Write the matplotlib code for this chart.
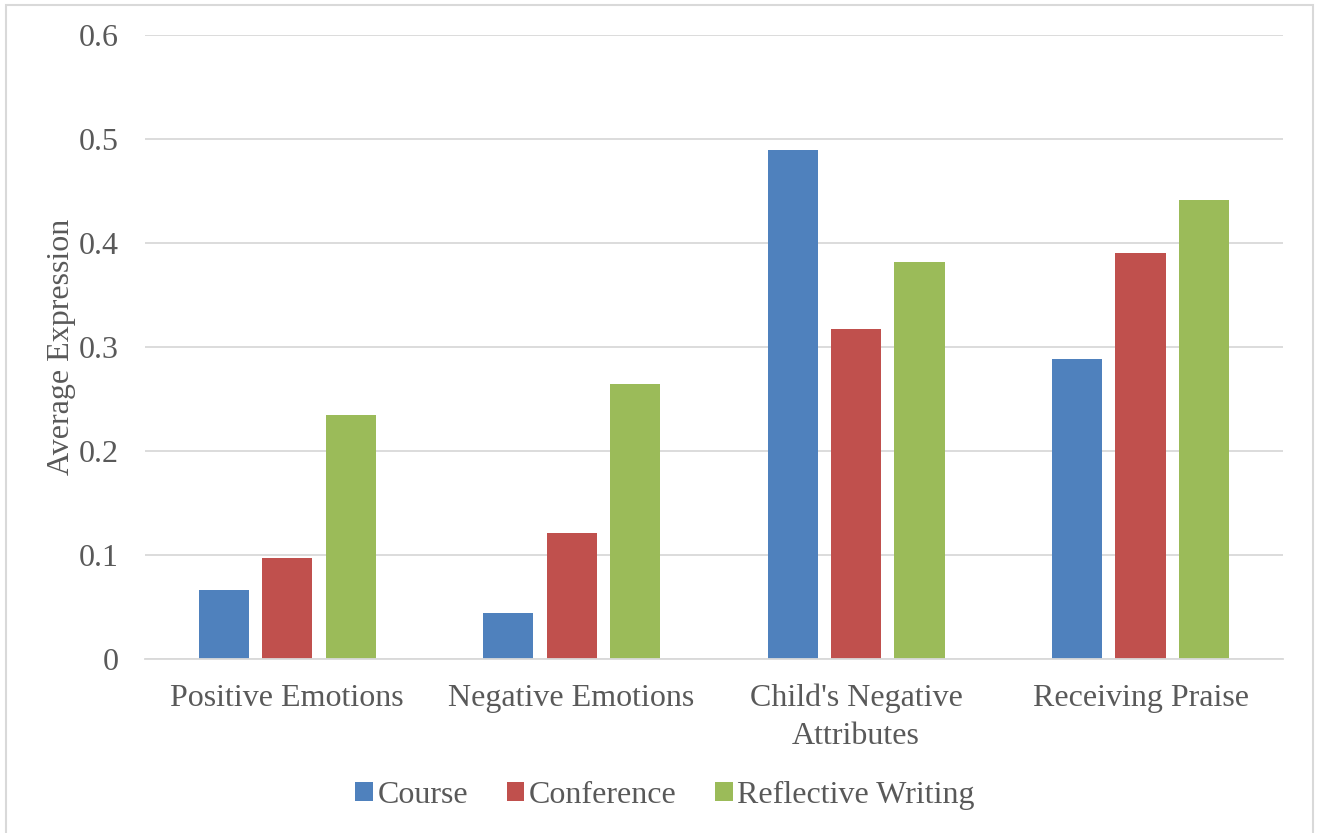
import matplotlib.pyplot as plt
import numpy as np
from matplotlib.patches import Rectangle

plt.rcParams['font.family'] = ['Liberation Serif', 'DejaVu Serif']

# categories and the three series
categories = ["Positive Emotions", "Negative Emotions", "Child's Negative\nAttributes", "Receiving Praise"]
course = [0.066, 0.044, 0.489, 0.288]
conference = [0.097, 0.121, 0.317, 0.390]
reflective = [0.235, 0.264, 0.382, 0.441]

series = [("Course", course, "#4F81BD"),
          ("Conference", conference, "#C0504D"),
          ("Reflective Writing", reflective, "#9BBB59")]

text_col = "#595959"
grid_col = "#D9D9D9"

fig = plt.figure(figsize=(13.17, 8.33), dpi=100)
ax = fig.add_axes([0.110, 0.209, 0.864, 0.749])

x = np.arange(len(categories))
width = 0.176
step = 0.223
for i, (name, vals, col) in enumerate(series):
    ax.bar(x + (i - 1) * step, vals, width, color=col, label=name, zorder=3)

ax.set_xlim(-0.5, len(categories) - 0.5)
ax.set_ylim(0, 0.6)
ax.set_yticks(np.arange(0, 0.61, 0.1))
ax.set_yticklabels(["0", "0.1", "0.2", "0.3", "0.4", "0.5", "0.6"])
ax.set_xticks(x)
ax.set_xticklabels(categories, linespacing=1.4)

ax.yaxis.grid(True, color=grid_col, linewidth=1.3, zorder=0)
for s in ["top", "right", "left"]:
    ax.spines[s].set_visible(False)
ax.spines["bottom"].set_color(grid_col)
ax.spines["bottom"].set_linewidth(1.3)
ax.spines["bottom"].set_zorder(4)

ax.tick_params(axis="both", length=0, labelsize=23, colors=text_col)
ax.tick_params(axis="y", pad=19)
ax.tick_params(axis="x", pad=18)
ax.set_ylabel("Average Expression", fontsize=23, color=text_col, labelpad=2)

leg = fig.legend(loc="center", bbox_to_anchor=(0.505, 0.045), ncol=3, frameon=False,
                 fontsize=23, handlelength=0.55, handleheight=0.55, handletextpad=0.15,
                 columnspacing=1.2)
for t in leg.get_texts():
    t.set_color(text_col)

# chart border
fig.patches.append(Rectangle((6 / 1317, -0.01), 1307 / 1317, 1 - 5 / 833 + 0.01,
                             transform=fig.transFigure, fill=False,
                             edgecolor="#D9D9D9", linewidth=1.5))

fig.savefig("out.png", dpi=100)
